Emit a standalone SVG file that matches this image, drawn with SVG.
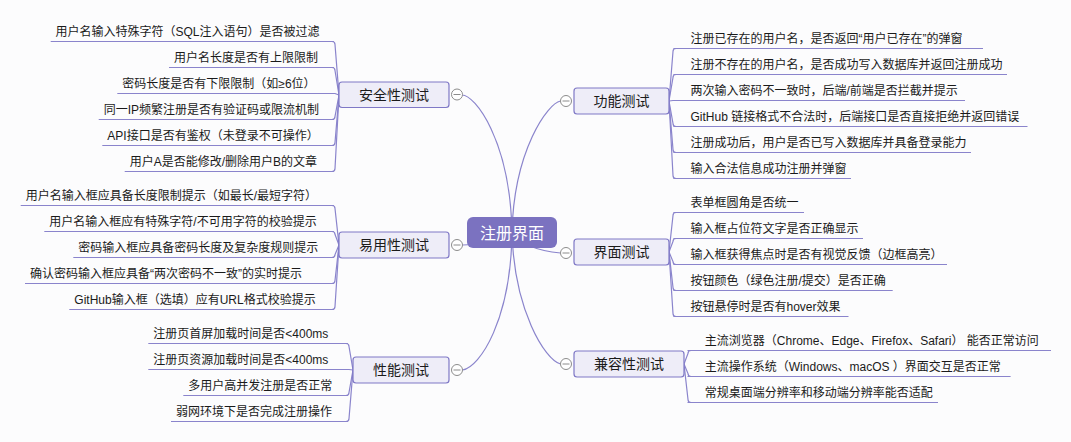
<svg xmlns="http://www.w3.org/2000/svg" width="1071" height="442" viewBox="0 0 1071 442">
<style>
text{font-family:"Liberation Sans","Noto Sans CJK SC",sans-serif;}
.item{font-size:12px;fill:#1a1a1a;}
.ul{fill:none;stroke:#8a84cc;stroke-width:1.2;}
.con{fill:none;stroke:#8a84cc;stroke-width:1.2;}
.box{fill:#eeedf8;stroke:#7f78c6;stroke-width:1.2;}
.lbl{font-size:14px;fill:#1a1a1a;text-anchor:middle;}
.root{fill:#7b72c0;}
.rootlbl{font-size:16px;fill:#ffffff;text-anchor:middle;}
.tog{fill:#ffffff;stroke:#8c8c8c;stroke-width:1;}
.togm{stroke:#8c8c8c;stroke-width:1;}
</style>
<rect width="1071" height="442" fill="#fcfcfd"/>
<g id="connectors">
<path class="con" d="M512,232 C510,140 475,95 462,95"/>
<path class="con" d="M512,232 C514,150 548,103 560.5,101"/>
<path class="con" d="M512,232 Q490,245 462.5,245"/>
<path class="con" d="M512,232 Q525,250 560.5,253"/>
<path class="con" d="M512,232 C511,320 480,367 462.5,370"/>
<path class="con" d="M512,232 C514,310 545,360 560.5,364"/>
<!-- 安全性测试 brackets -->
<path class="con" d="M339,95 L335,44.5 Q335,41.5 332,41.5"/>
<path class="con" d="M339,95 L335,70.5 Q335,67.5 332,67.5"/>
<path class="con" d="M339,95 L335,93.5 Q335,93.5 332,93.5"/>
<path class="con" d="M339,95 L335,116.5 Q335,119.5 332,119.5"/>
<path class="con" d="M339,95 L335,142.5 Q335,145.5 332,145.5"/>
<path class="con" d="M339,95 L335,168.5 Q335,171.5 332,171.5"/>
<!-- 易用性测试 brackets -->
<path class="con" d="M339,245 L335,208.5 Q335,205.5 332,205.5"/>
<path class="con" d="M339,245 L335,234.5 Q335,231.5 332,231.5"/>
<path class="con" d="M339,245 L335,254.5 Q335,257.5 332,257.5"/>
<path class="con" d="M339,245 L335,280.5 Q335,283.5 332,283.5"/>
<path class="con" d="M339,245 L335,306.5 Q335,309.5 332,309.5"/>
<!-- 性能测试 brackets -->
<path class="con" d="M353,370 L349,346.5 Q349,343.5 346,343.5"/>
<path class="con" d="M353,370 L349,369.5 Q349,369.5 346,369.5"/>
<path class="con" d="M353,370 L349,392.5 Q349,395.5 346,395.5"/>
<path class="con" d="M353,370 L349,418.5 Q349,421.5 346,421.5"/>
<!-- 功能测试 brackets -->
<path class="con" d="M669,101 L673,51.5 Q673,48.5 676,48.5"/>
<path class="con" d="M669,101 L673,77.5 Q673,74.5 676,74.5"/>
<path class="con" d="M669,101 L673,100.5 Q673,100.5 676,100.5"/>
<path class="con" d="M669,101 L673,123.5 Q673,126.5 676,126.5"/>
<path class="con" d="M669,101 L673,149.5 Q673,152.5 676,152.5"/>
<path class="con" d="M669,101 L673,175.5 Q673,178.5 676,178.5"/>
<!-- 界面测试 brackets -->
<path class="con" d="M669,252 L673,215.5 Q673,212.5 676,212.5"/>
<path class="con" d="M669,252 L673,241.5 Q673,238.5 676,238.5"/>
<path class="con" d="M669,252 L673,261.5 Q673,264.5 676,264.5"/>
<path class="con" d="M669,252 L673,287.5 Q673,290.5 676,290.5"/>
<path class="con" d="M669,252 L673,313.5 Q673,316.5 676,316.5"/>
<!-- 兼容性测试 brackets -->
<path class="con" d="M684,364 L688,353.5 Q688,350.5 691,350.5"/>
<path class="con" d="M684,364 L688,373.5 Q688,376.5 691,376.5"/>
<path class="con" d="M684,364 L688,399.5 Q688,402.5 691,402.5"/>
</g>
<g id="root">
<rect class="root" x="467" y="217" width="90" height="31" rx="6"/>
<text class="rootlbl" x="512" y="238.5">注册界面</text>
</g>
<g id="security">
<rect class="box" x="339" y="82" width="110" height="25.5" rx="3"/>
<text class="lbl" x="394" y="100">安全性测试</text>
<circle class="tog" cx="457" cy="94.5" r="5.5"/><path class="togm" d="M453.5,94.5 H460.5"/>
<g id="security-items">
<path class="ul" d="M50.7,41.5 H334"/><text class="item" x="55.5" y="35.5">用户名输入特殊字符（SQL注入语句）是否被过滤</text>
<path class="ul" d="M169,67.5 H334"/><text class="item" x="174" y="61.5">用户名长度是否有上限限制</text>
<path class="ul" d="M117.3,93.5 H334"/><text class="item" x="122.3" y="87.5">密码长度是否有下限限制（如≥6位）</text>
<path class="ul" d="M98.7,119.5 H334"/><text class="item" x="103.7" y="113.5">同一IP频繁注册是否有验证码或限流机制</text>
<path class="ul" d="M102.3,145.5 H334"/><text class="item" x="107.3" y="139.5">API接口是否有鉴权（未登录不可操作）</text>
<path class="ul" d="M124.7,171.5 H334"/><text class="item" x="129.7" y="165.5">用户A是否能修改/删除用户B的文章</text>
</g>
</g>
<g id="usability">
<rect class="box" x="339" y="232" width="110" height="26" rx="3"/>
<text class="lbl" x="394" y="250">易用性测试</text>
<circle class="tog" cx="457" cy="245" r="5.5"/><path class="togm" d="M453.5,245 H460.5"/>
<g id="usability-items">
<path class="ul" d="M20.7,205.5 H334"/><text class="item" x="25.7" y="199.5">用户名输入框应具备长度限制提示（如最长/最短字符）</text>
<path class="ul" d="M44.3,231.5 H334"/><text class="item" x="49.3" y="225.5">用户名输入框应有特殊字符/不可用字符的校验提示</text>
<path class="ul" d="M73.3,257.5 H334"/><text class="item" x="78.3" y="251.5">密码输入框应具备密码长度及复杂度规则提示</text>
<path class="ul" d="M25,283.5 H334"/><text class="item" x="30" y="277.5">确认密码输入框应具备“两次密码不一致”的实时提示</text>
<path class="ul" d="M69.3,309.5 H334"/><text class="item" x="74.3" y="303.5">GitHub输入框（选填）应有URL格式校验提示</text>
</g>
</g>
<g id="performance">
<rect class="box" x="353" y="357" width="96" height="26" rx="3"/>
<text class="lbl" x="401" y="375">性能测试</text>
<circle class="tog" cx="457" cy="370" r="5.5"/><path class="togm" d="M453.5,370 H460.5"/>
<g id="performance-items">
<path class="ul" d="M148.3,343.5 H348"/><text class="item" x="153.3" y="337.5">注册页首屏加载时间是否&lt;400ms</text>
<path class="ul" d="M148.3,369.5 H348"/><text class="item" x="153.3" y="363.5">注册页资源加载时间是否&lt;400ms</text>
<path class="ul" d="M183.3,395.5 H348"/><text class="item" x="188.3" y="389.5">多用户高并发注册是否正常</text>
<path class="ul" d="M171,421.5 H348"/><text class="item" x="176" y="415.5">弱网环境下是否完成注册操作</text>
</g>
</g>
<g id="function">
<rect class="box" x="574" y="88" width="95" height="26" rx="3"/>
<text class="lbl" x="621.5" y="106">功能测试</text>
<circle class="tog" cx="566" cy="101" r="5.5"/><path class="togm" d="M562.5,101 H569.5"/>
<g id="function-items">
<path class="ul" d="M673.4,48.5 H983"/><text class="item" x="690.5" y="42.5">注册已存在的用户名，是否返回“用户已存在”的弹窗</text>
<path class="ul" d="M673.4,74.5 H1007"/><text class="item" x="690.5" y="68.5">注册不存在的用户名，是否成功写入数据库并返回注册成功</text>
<path class="ul" d="M673.4,100.5 H965"/><text class="item" x="690.5" y="94.5">两次输入密码不一致时，后端/前端是否拦截并提示</text>
<path class="ul" d="M673.4,126.5 H1027.5"/><text class="item" x="690.5" y="120.5">GitHub 链接格式不合法时，后端接口是否直接拒绝并返回错误</text>
<path class="ul" d="M673.4,152.5 H971"/><text class="item" x="690.5" y="146.5">注册成功后，用户是否已写入数据库并具备登录能力</text>
<path class="ul" d="M673.4,178.5 H851"/><text class="item" x="690.5" y="172.5">输入合法信息成功注册并弹窗</text>
</g>
</g>
<g id="interface">
<rect class="box" x="574" y="239" width="95" height="26" rx="3"/>
<text class="lbl" x="621.5" y="257">界面测试</text>
<circle class="tog" cx="566" cy="253" r="5.5"/><path class="togm" d="M562.5,253 H569.5"/>
<g id="interface-items">
<path class="ul" d="M673.4,212.5 H804"/><text class="item" x="690.5" y="206.5">表单框圆角是否统一</text>
<path class="ul" d="M673.4,238.5 H863"/><text class="item" x="690.5" y="232.5">输入框占位符文字是否正确显示</text>
<path class="ul" d="M673.4,264.5 H947"/><text class="item" x="690.5" y="258.5">输入框获得焦点时是否有视觉反馈（边框高亮）</text>
<path class="ul" d="M673.4,290.5 H892.7"/><text class="item" x="690.5" y="284.5">按钮颜色（绿色注册/提交）是否正确</text>
<path class="ul" d="M673.4,316.5 H848.5"/><text class="item" x="690.5" y="310.5">按钮悬停时是否有hover效果</text>
</g>
</g>
<g id="compatibility">
<rect class="box" x="574" y="351" width="110" height="26" rx="3"/>
<text class="lbl" x="629" y="369">兼容性测试</text>
<circle class="tog" cx="566" cy="364" r="5.5"/><path class="togm" d="M562.5,364 H569.5"/>
<g id="compatibility-items">
<path class="ul" d="M687.5,350.5 H1051"/><text class="item" x="704.8" y="344.5">主流浏览器（Chrome、Edge、Firefox、Safari） 能否正常访问</text>
<path class="ul" d="M687.5,376.5 H1010.6"/><text class="item" x="704.8" y="370.5">主流操作系统（Windows、macOS ）界面交互是否正常</text>
<path class="ul" d="M687.5,402.5 H938"/><text class="item" x="704.8" y="396.5">常规桌面端分辨率和移动端分辨率能否适配</text>
</g>
</g>
</svg>
